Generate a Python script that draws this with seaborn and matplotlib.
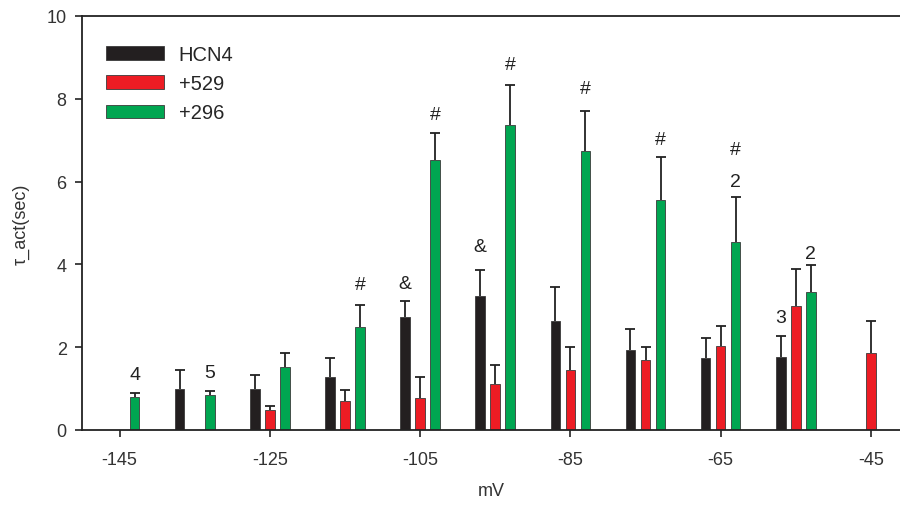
import numpy as np
import pandas as pd
import matplotlib
matplotlib.use("Agg")
import matplotlib.pyplot as plt
import seaborn as sns

# membrane potential groups (mV)
mv = [-145, -135, -125, -115, -105, -95, -85, -75, -65, -55, -45]

# tau_act means and upper SEM (None = no bar)
hcn4 = [None, 0.99, 0.99, 1.29, 2.74, 3.23, 2.63, 1.94, 1.73, 1.76, None]
hcn4_err = [None, 0.47, 0.35, 0.45, 0.37, 0.64, 0.82, 0.50, 0.50, 0.52, None]
c529 = [None, None, 0.48, 0.71, 0.77, 1.10, 1.45, 1.69, 2.02, 3.00, 1.85]
c529_err = [None, None, 0.10, 0.26, 0.52, 0.48, 0.55, 0.31, 0.50, 0.89, 0.79]
c296 = [0.79, 0.85, 1.51, 2.50, 6.53, 7.37, 6.73, 5.56, 4.53, 3.34, None]
c296_err = [0.10, 0.08, 0.36, 0.52, 0.64, 0.97, 0.98, 1.03, 1.09, 0.65, None]

groups = ["HCN4", "+529", "+296"]
colors = ["#231f20", "#ed1c24", "#00a651"]

# marks above bars: (group, mV, text, offset above cap in px)
marks = [
    ("+296", -145, "4", 19), ("+296", -135, "5", 19),
    ("+296", -115, "#", 20), ("HCN4", -105, "&", 18),
    ("+296", -105, "#", 19), ("HCN4", -95, "&", 23),
    ("+296", -95, "#", 20), ("+296", -85, "#", 22),
    ("+296", -75, "#", 18), ("+296", -65, "2", 16),
    ("+296", -65, "#", 48), ("HCN4", -55, "3", 18),
    ("+296", -55, "2", 11),
]

rows = []
for g, vals, errs in zip(groups, [hcn4, c529, c296], [hcn4_err, c529_err, c296_err]):
    for m, v, e in zip(mv, vals, errs):
        if v is not None:
            rows.append(dict(mV=m, tau=v, err=e, group=g))
df = pd.DataFrame(rows)

sns.set_theme(style="ticks")
plt.rcParams["font.family"] = ["Liberation Sans", "DejaVu Sans"]
plt.rcParams["axes.unicode_minus"] = False

fig = plt.figure(figsize=(9, 5.06), dpi=100)
ax = fig.add_axes([82 / 900, 75 / 506, 818 / 900, 414 / 506])

sns.barplot(data=df, x="mV", y="tau", hue="group", hue_order=groups,
            palette=colors, saturation=1, native_scale=True, width=0.6, gap=0.36,
            errorbar=None, edgecolor="#3a3a3a", linewidth=0.6, ax=ax, zorder=2)

# upper-only error bars, placed on the drawn bars
bar_pos = {}
for g, cont in zip(groups, ax.containers):
    sub = df[df.group == g].sort_values("mV")
    for p, (_, r) in zip(cont.patches, sub.iterrows()):
        bar_pos[(g, r.mV)] = (p.get_x() + p.get_width() / 2, p.get_height(), r.err)

xs = np.array([v[0] for v in bar_pos.values()])
ys = np.array([v[1] for v in bar_pos.values()])
es = np.array([v[2] for v in bar_pos.values()])
eb = ax.errorbar(xs, ys, yerr=[np.zeros_like(es), es], fmt="none",
                 ecolor="#222222", elinewidth=1.3, capsize=3.3, capthick=1.3, zorder=1)
eb[1][0].set_visible(False)

for g, m, txt, off in marks:
    x, h, e = bar_pos[(g, m)]
    ax.annotate(txt, (x, h + e), xytext=(0, off * 0.72), textcoords="offset points",
                ha="center", va="center", fontsize=14, color="#222222")

ax.set_xlim(-150, -41.13)
ax.set_ylim(0, 10)
ax.set_xticks(range(-145, -44, 20))
ax.set_yticks(range(0, 11, 2))
ax.tick_params(axis="both", direction="out", length=5, width=1.2,
               labelsize=13, labelcolor="#333333", color="#222222")
ax.tick_params(axis="x", pad=10)
ax.tick_params(axis="y", pad=6)
for s in ["left", "bottom", "top"]:
    ax.spines[s].set_linewidth(1.3)
    ax.spines[s].set_color("#222222")
ax.spines["right"].set_visible(False)

ax.set_xlabel("mV", fontsize=13, color="#333333", labelpad=10)
ax.set_ylabel("τ_act(sec)", fontsize=13, color="#333333", labelpad=12)

handles, labels = ax.get_legend_handles_labels()
ax.legend(handles, labels, loc="upper left", bbox_to_anchor=(0.0196, 0.949),
          frameon=False, fontsize=14.5, handlelength=2.9, handleheight=0.65,
          handletextpad=0.7, labelspacing=0.5, borderaxespad=0)

fig.savefig("out.png", dpi=100)
